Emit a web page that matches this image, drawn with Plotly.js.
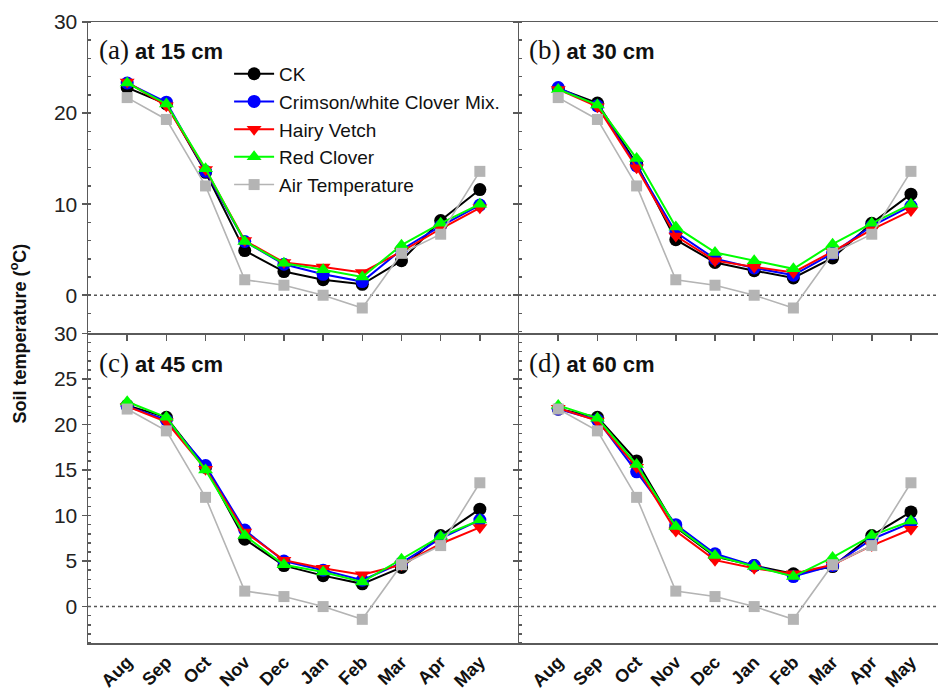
<!DOCTYPE html>
<html>
<head>
<meta charset="utf-8">
<script src="https://cdn.plot.ly/plotly-3.0.1.min.js"></script>
<style>html,body{margin:0;padding:0;background:#fff;}#chart{width:938px;height:695px;}</style>
</head>
<body>
<div id="chart"></div>
<script>
const months = ['Aug','Sep','Oct','Nov','Dec','Jan','Feb','Mar','Apr','May'];
const seriesNames = ['CK','Crimson/white Clover Mix.','Hairy Vetch','Red Clover','Air Temperature'];
const airTemp = [21.7, 19.3, 12.0, 1.7, 1.1, 0.0, -1.4, 4.6, 6.7, 13.6];

// (a) 15 cm
const ck15      = [22.8, 21.0, 13.5, 4.9, 2.6, 1.7, 1.2, 3.8, 8.2, 11.6];
const crimson15 = [23.3, 21.2, 13.6, 5.9, 3.4, 2.3, 1.5, 5.0, 7.6, 9.9];
const vetch15   = [23.4, 20.8, 13.8, 6.0, 3.6, 3.1, 2.5, 4.8, 7.3, 9.6];
const red15     = [23.3, 21.0, 13.9, 5.9, 3.5, 2.8, 2.0, 5.5, 7.9, 10.0];
// (b) 30 cm
const ck30      = [22.7, 21.1, 14.4, 6.1, 3.6, 2.7, 1.9, 4.1, 7.9, 11.1];
const crimson30 = [22.8, 20.8, 14.2, 6.9, 4.0, 3.0, 2.2, 4.6, 7.6, 9.8];
const vetch30   = [22.6, 20.7, 14.0, 6.5, 3.8, 3.1, 2.5, 4.8, 7.2, 9.3];
const red30     = [22.6, 20.9, 15.0, 7.5, 4.7, 3.8, 2.9, 5.6, 7.9, 10.0];
// (c) 45 cm
const ck45      = [22.1, 20.8, 15.3, 7.4, 4.5, 3.4, 2.5, 4.3, 7.8, 10.7];
const crimson45 = [22.0, 20.5, 15.5, 8.4, 5.0, 4.0, 2.9, 4.8, 7.5, 9.5];
const vetch45   = [22.0, 20.3, 15.1, 8.2, 5.1, 4.2, 3.5, 4.6, 6.9, 8.7];
const red45     = [22.5, 20.8, 15.0, 7.8, 4.6, 3.8, 2.7, 5.2, 7.7, 9.5];
// (d) 60 cm
const ck60      = [21.7, 20.8, 16.0, 8.7, 5.5, 4.5, 3.6, 4.4, 7.8, 10.4];
const crimson60 = [21.7, 20.5, 14.8, 9.0, 5.8, 4.5, 3.3, 4.5, 7.4, 9.2];
const vetch60   = [21.8, 20.4, 15.3, 8.3, 5.1, 4.2, 3.6, 4.6, 6.7, 8.5];
const red60     = [22.1, 20.7, 15.6, 8.8, 5.6, 4.4, 3.3, 5.4, 7.8, 9.4];

const panelLabels = ['(a)','(b)','(c)','(d)'];
const panelDepths = ['at 15 cm','at 30 cm','at 45 cm','at 60 cm'];
const panelData = [
  [ck15, crimson15, vetch15, red15, airTemp],
  [ck30, crimson30, vetch30, red30, airTemp],
  [ck45, crimson45, vetch45, red45, airTemp],
  [ck60, crimson60, vetch60, red60, airTemp]
];

const styles = [
  {color:'#000000', symbol:'circle', size:13, width:2},
  {color:'#0000ff', symbol:'circle', size:13, width:2},
  {color:'#ff0000', symbol:'triangle-down', size:13, width:2},
  {color:'#00ff00', symbol:'triangle-up', size:13, width:2},
  {color:'#b4b4b4', symbol:'square', size:11, width:1.6}
];

const axisPairs = [['x','y'],['x2','y2'],['x3','y3'],['x4','y4']];
const traces = [];
panelData.forEach((series, p) => {
  series.forEach((vals, s) => {
    const st = styles[s];
    traces.push({
      x: months, y: vals, type:'scatter', mode:'lines+markers',
      name: seriesNames[s],
      showlegend: p === 0,
      xaxis: axisPairs[p][0], yaxis: axisPairs[p][1],
      line: {color: st.color, width: st.width},
      marker: {color: st.color, symbol: st.symbol, size: st.size},
      cliponaxis: false
    });
  });
});

const F = 'Arial, "Liberation Sans", sans-serif';
const axCol = '#5a5a5a';
const split = 0.4984;
const xL = [0, 0.5071], xR = [0.5071, 1];

function xax(domain, anchor, range, bottom) {
  return {
    domain: domain, anchor: anchor, type:'category', range: range,
    showline: true, linecolor: axCol, linewidth: 1.5, mirror: !bottom,
    showgrid: false, zeroline: false,
    ticks: bottom ? '' : 'outside', ticklen: 6, tickcolor: axCol, tickwidth: 1.5,
    showticklabels: bottom, tickangle: -45,
    tickfont: {family: F, size: 18, color: '#111', weight: 'bold'}
  };
}
function yax(domain, anchor, range, dtick, minor, labels) {
  return {
    domain: domain, anchor: anchor, range: range,
    showline: true, linecolor: axCol, linewidth: 1.5,
    showgrid: false, zeroline: false,
    tickmode: 'linear', tick0: 0, dtick: dtick,
    ticks: 'outside', ticklen: 5, tickcolor: axCol, tickwidth: 1.5,
    showticklabels: labels,
    tickfont: {family: F, size: 21, color: '#222'},
    minor: {ticks: 'inside', ticklen: 3, dtick: minor, tick0: 0, tickcolor: axCol, showgrid: false}
  };
}

const layout = {
  width: 938, height: 695,
  margin: {l: 88, r: 0, t: 22, b: 52},
  paper_bgcolor: '#fff', plot_bgcolor: '#fff',
  font: {family: F, color: '#111'},
  showlegend: true,
  legend: {
    x: 0.166, y: 0.947, xanchor: 'left', yanchor: 'top',
    bgcolor: 'rgba(0,0,0,0)', font: {family: F, size: 19, color: '#111'},
    tracegroupgap: 0, itemwidth: 40
  },
  xaxis:  xax(xL, 'y',  [-1, 10], false),
  yaxis:  yax([split, 1], 'x', [-4.2, 30], 10, 2, true),
  xaxis2: xax(xR, 'y2', [-1, 9.69], false),
  yaxis2: yax([split, 1], 'x2', [-4.2, 30], 10, 2, false),
  xaxis3: xax(xL, 'y3', [-1, 10], true),
  yaxis3: yax([0, split], 'x3', [-4.0, 30], 5, 1, true),
  xaxis4: xax(xR, 'y4', [-1, 9.69], true),
  yaxis4: yax([0, split], 'x4', [-4.0, 30], 5, 1, false),
  shapes: [],
  annotations: []
};

axisPairs.forEach((ax, p) => {
  layout.shapes.push({
    type: 'line', xref: ax[0] + ' domain', yref: ax[1], x0: 0, x1: 1, y0: 0, y1: 0,
    line: {color: '#555', width: 1.5, dash: 'dot'}, layer: 'below'
  });
  layout.annotations.push({
    xref: ax[0] + ' domain', yref: ax[1] + ' domain',
    x: 0.02, y: p < 2 ? 0.91 : 0.905, xanchor: 'left', yanchor: 'middle', showarrow: false,
    text: '<span style="font-family:\'Liberation Serif\',\'DejaVu Serif\',serif;font-size:27px;font-weight:normal">' + panelLabels[p] + '</span> <b>' + panelDepths[p] + '</b>',
    font: {family: F, size: 22, color: '#111'}
  });
});

layout.annotations.push({
  xref: 'paper', yref: 'paper', x: -0.082, y: 0.499, xanchor: 'center', yanchor: 'middle',
  textangle: -90, showarrow: false,
  text: '<b>Soil temperature (<sup>o</sup>C)</b>',
  font: {family: F, size: 18, color: '#111'}
});

Plotly.newPlot('chart', traces, layout, {displayModeBar: false, staticPlot: true});
</script>
</body>
</html>
